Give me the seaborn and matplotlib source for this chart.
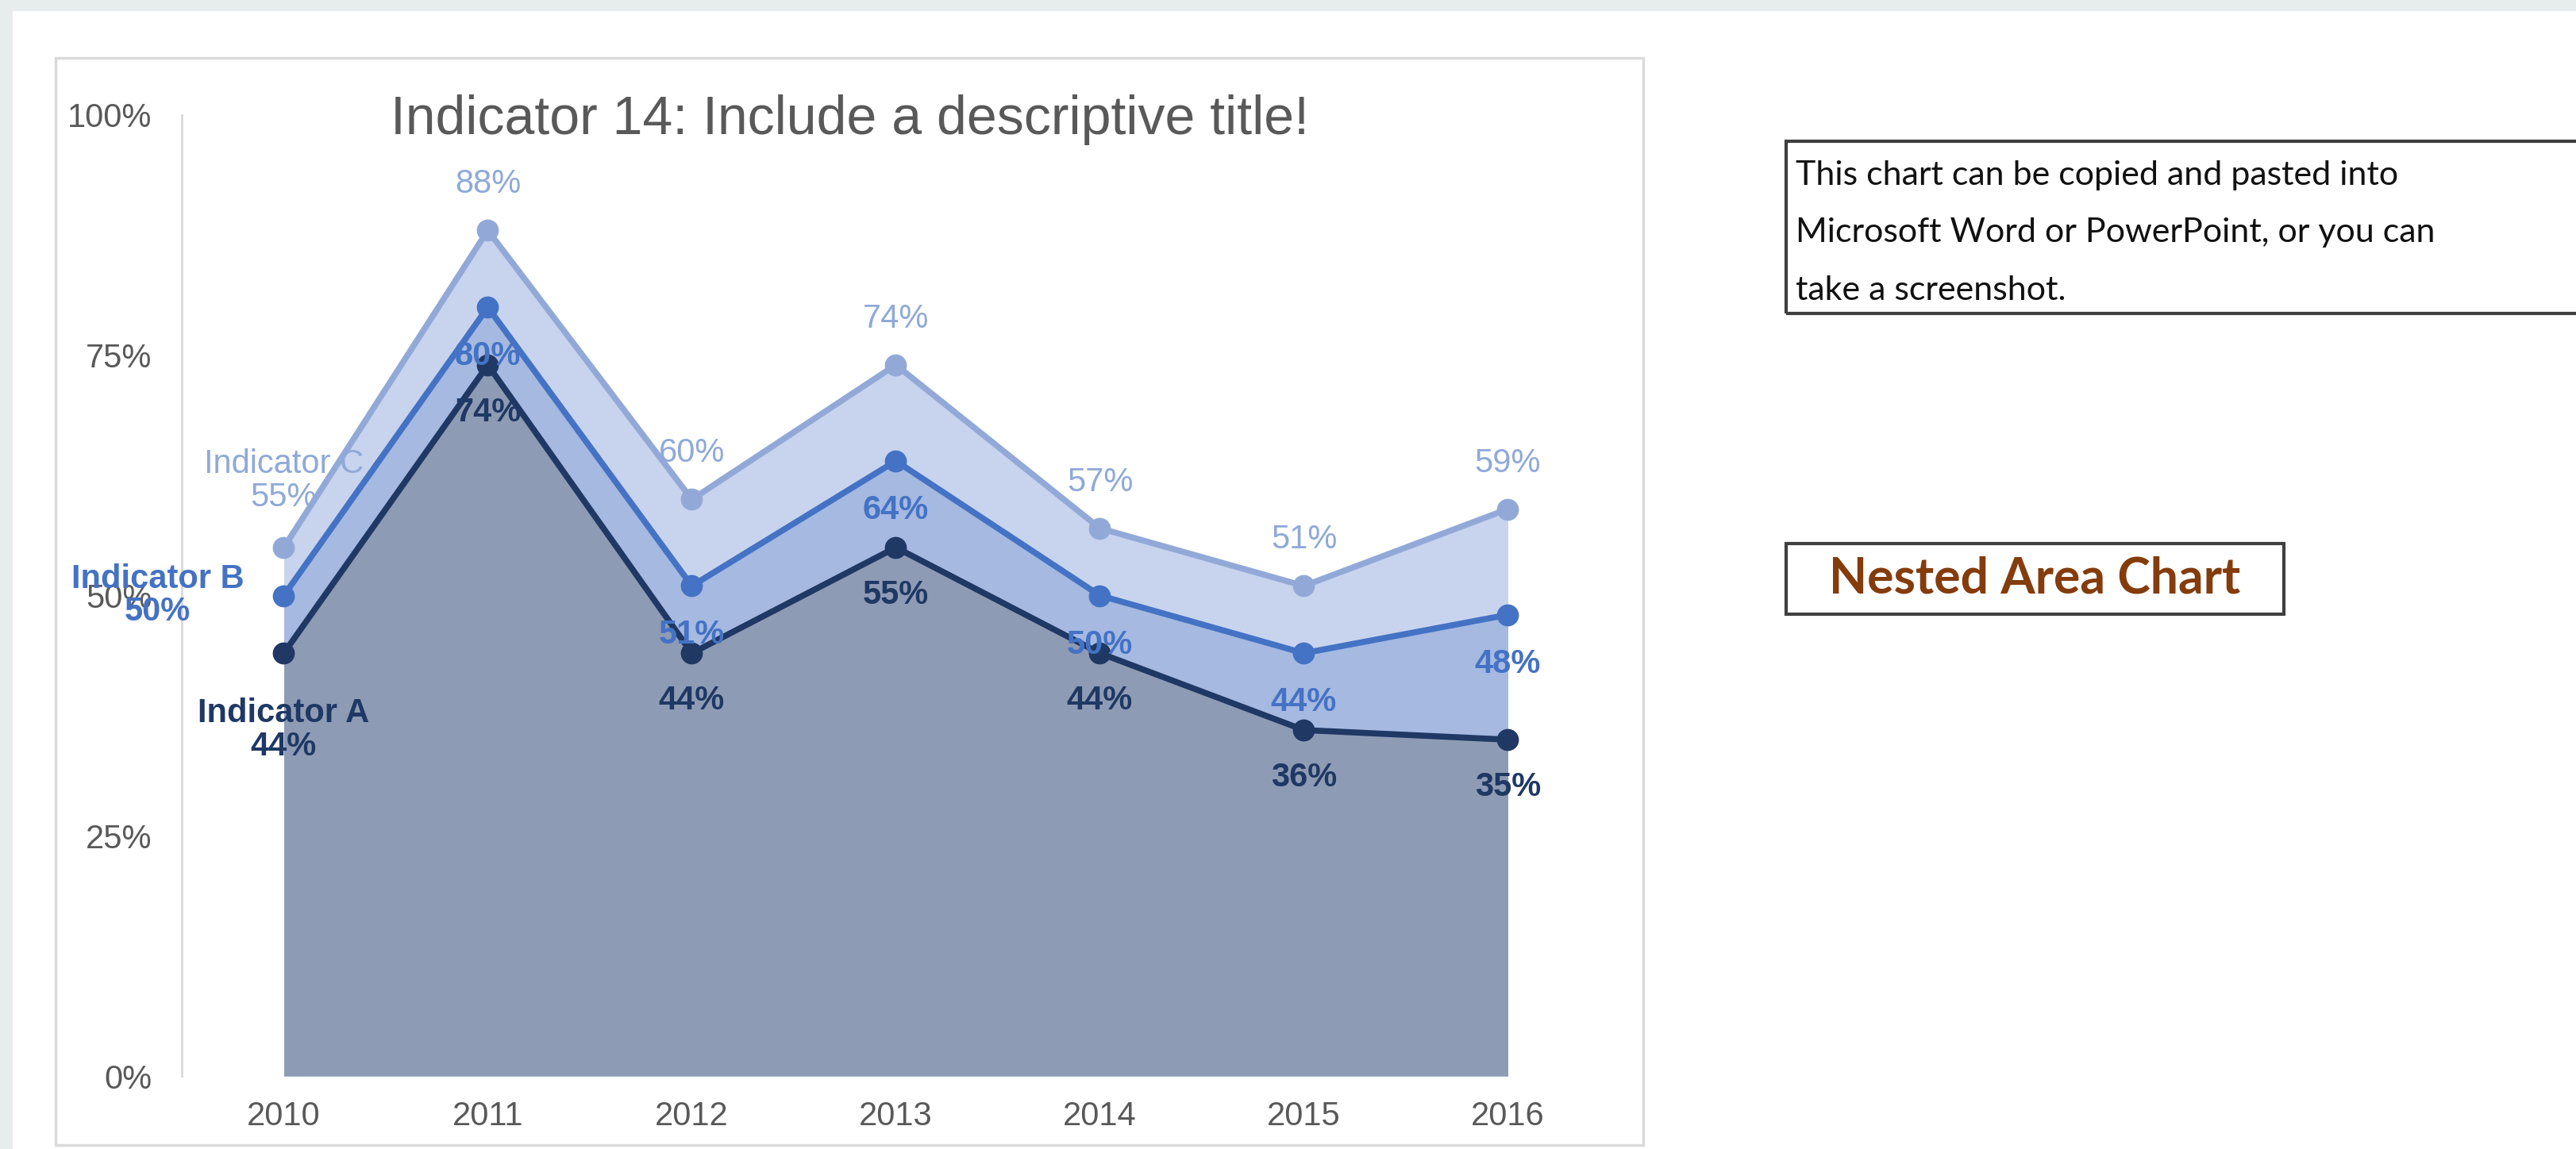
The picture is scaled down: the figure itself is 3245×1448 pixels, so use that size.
import numpy as np
import pandas as pd
import seaborn as sns
import matplotlib.pyplot as plt
import matplotlib.ticker as mtick
from matplotlib.patches import Rectangle

# ======================================================
# DATA
# ======================================================
years = [2010, 2011, 2012, 2013, 2014, 2015, 2016]
indicator_a = [44, 74, 44, 55, 44, 36, 35]
indicator_b = [50, 80, 51, 64, 50, 44, 48]
indicator_c = [55, 88, 60, 74, 57, 51, 59]
series_names = ["Indicator A", "Indicator B", "Indicator C"]
y_ticks = [0, 25, 50, 75, 100]

chart_title = "Indicator 14: Include a descriptive title!"
note_lines = ["This chart can be copied and pasted into",
              "Microsoft Word or PowerPoint, or you can",
              "take a screenshot."]
tag_text = "Nested Area Chart"

# colours (line, fill, label)
line_colors = {"Indicator A": "#1f3864", "Indicator B": "#4472c4", "Indicator C": "#92a9d8"}
fill_colors = {"Indicator A": "#8e9bb4", "Indicator B": "#a5b9e1", "Indicator C": "#c8d4ee"}
label_colors = {"Indicator A": "#1f3864", "Indicator B": "#4472c4", "Indicator C": "#8fa9d9"}
label_weights = {"Indicator A": "bold", "Indicator B": "bold", "Indicator C": "normal"}

# ======================================================
# FIGURE / LAYOUT (pixel helpers)
# ======================================================
W, H = 3245, 1448
sns.set_theme(style="white")
plt.rcParams['font.family'] = ['Liberation Sans', 'DejaVu Sans']

fig = plt.figure(figsize=(W / 100, H / 100), dpi=100)
fig.patch.set_facecolor("white")


def fx(px):
    return px / W


def fy(py):
    return 1 - py / H


# grey screenshot margins
fig.add_artist(Rectangle((0, fy(14)), 1, 14 / H, transform=fig.transFigure,
                         color="#e7ecec", lw=0, zorder=0))
fig.add_artist(Rectangle((0, 0), fx(16), 1, transform=fig.transFigure,
                         color="#e7ecec", lw=0, zorder=0))
# chart area frame
fig.add_artist(Rectangle((fx(70), fy(1443)), fx(2000), 1370 / H, transform=fig.transFigure,
                         fill=False, edgecolor="#dadada", lw=2.5, zorder=1))

ax = fig.add_axes([fx(229), fy(1356), fx(2028 - 229), (1356 - 145) / H])
ax.set_facecolor("none")

# ======================================================
# AREAS + LINES
# ======================================================
series_values = {"Indicator A": indicator_a, "Indicator B": indicator_b, "Indicator C": indicator_c}

ax.fill_between(years, indicator_c, color=fill_colors["Indicator C"], lw=0, zorder=1)
ax.fill_between(years, indicator_b, color=fill_colors["Indicator B"], lw=0, zorder=2)
ax.fill_between(years, indicator_a, color=fill_colors["Indicator A"], lw=0, zorder=3)

df = pd.DataFrame({
    "year": years * 3,
    "value": indicator_a + indicator_b + indicator_c,
    "series": [n for n in series_names for _ in years],
})

sns.lineplot(data=df, x="year", y="value", hue="series", hue_order=series_names[::-1],
             palette=line_colors, marker="o", markersize=20, markeredgewidth=0,
             linewidth=5.5, legend=False, ax=ax, zorder=5)

# ======================================================
# DATA LABELS
# ======================================================
label_fs = 30
offsets = {"Indicator A": 60, "Indicator B": 62, "Indicator C": -58}

for name in series_names:
    vals = series_values[name]
    for i, (yr, v) in enumerate(zip(years, vals)):
        txt = f"{v}%"
        dx, dy = 0, offsets[name]
        if i == 0:
            txt = f"{name}\n{v}%"
            if name == "Indicator A":
                dy = 97
            elif name == "Indicator B":
                dx, dy = -159, 0
            else:
                dy = -84
        ax.annotate(txt, (yr, v), xytext=(dx, -dy), textcoords="offset pixels",
                    ha="center", va="center", multialignment="center",
                    color=label_colors[name], fontsize=label_fs,
                    fontweight=label_weights[name], linespacing=1.05,
                    zorder=10, annotation_clip=False)

# ======================================================
# AXES FORMATTING
# ======================================================
ax.set_xlim(years[0] - 0.5, years[-1] + 0.5)
ax.set_ylim(0, 100)
ax.set_xticks(years)
ax.set_xticklabels([str(y) for y in years])
ax.set_yticks(y_ticks)
ax.yaxis.set_major_formatter(mtick.PercentFormatter(xmax=100, decimals=0))
ax.tick_params(axis="y", length=0, pad=27, labelsize=30, labelcolor="#595959")
ax.tick_params(axis="x", length=0, pad=22, labelsize=30, labelcolor="#595959")
ax.set_xlabel("")
ax.set_ylabel("")
for side in ["top", "right", "bottom"]:
    ax.spines[side].set_visible(False)
ax.spines["left"].set_color("#d9d9d9")
ax.spines["left"].set_linewidth(2)
ax.grid(False)

fig.text(fx(1070), fy(151), chart_title, ha="center", va="center",
         fontsize=49, color="#595959")

# ======================================================
# SIDE NOTES
# ======================================================
fig.add_artist(Rectangle((fx(2250), fy(395)), fx(1100), 217 / H, transform=fig.transFigure,
                         fill=False, edgecolor="#3f3f3f", lw=3, zorder=2))
for k, line in enumerate(note_lines):
    fig.text(fx(2262), fy(221 + 72.5 * k), line, ha="left", va="center",
             fontsize=31, color="#111111", family=["Lato", "DejaVu Sans"])

fig.add_artist(Rectangle((fx(2250), fy(774)), fx(627), 89 / H, transform=fig.transFigure,
                         fill=False, edgecolor="#3f3f3f", lw=3, zorder=2))
fig.text(fx(2563), fy(729), tag_text, ha="center", va="center", fontsize=45,
         fontweight="bold", color="#843c0c", family=["Lato", "DejaVu Sans"])

fig.savefig("out.png", dpi=100, facecolor=fig.get_facecolor())
